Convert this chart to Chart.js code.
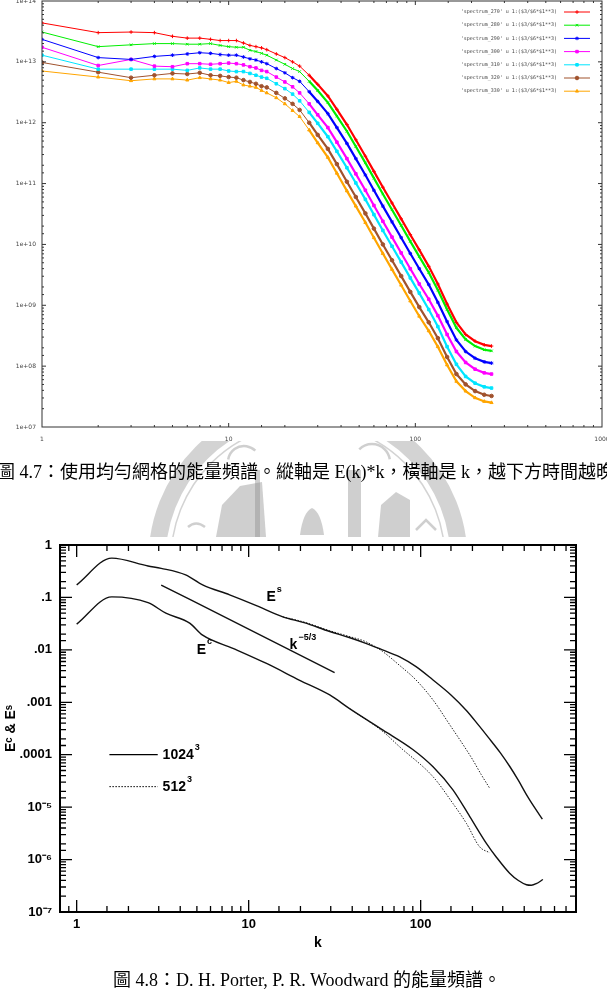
<!DOCTYPE html>
<html><head><meta charset="utf-8">
<script src="https://cdn.jsdelivr.net/npm/chart.js@4.4.1/dist/chart.umd.min.js"></script>
<style>
html,body{margin:0;padding:0;background:#fff;}
body{width:607px;height:990px;position:relative;overflow:hidden;}
#wm{position:absolute;left:0;top:0;}
#c1{position:absolute;left:0;top:0;}
#c2{position:absolute;left:0;top:530px;}
.cap{position:absolute;white-space:nowrap;font-family:"Liberation Serif","Noto Sans CJK TC",serif;font-size:18px;line-height:22px;color:#000;}
#cap1{left:-3px;top:461px;}
#cap2{left:0;width:614px;text-align:center;top:969px;}
</style></head><body>
<canvas id="wm" width="607" height="990"></canvas>
<canvas id="c1" width="607" height="455"></canvas>
<div class="cap" id="cap1">圖 4.7：使用均勻網格的能量頻譜。縱軸是 E(k)*k，橫軸是 k，越下方時間越晚</div>
<canvas id="c2" width="607" height="460"></canvas>
<div class="cap" id="cap2">圖 4.8：D. H. Porter, P. R. Woodward 的能量頻譜。</div>
<script>
// ===== Figure 4.7 (top), stored as log10(E(k)*k) =====
const kTop = [1,2,3,4,5,6,7,8,9,10,11,12,13,14,15,16,18,20,22,24,27,30,34,38,43,48,54,60,67,75,84,94,105,118,132,148,166,186,209,234,256];
const spec270 = [13.64,13.48,13.49,13.48,13.42,13.39,13.39,13.37,13.35,13.35,13.35,13.31,13.27,13.25,13.23,13.20,13.13,13.07,13.00,12.93,12.78,12.63,12.44,12.22,11.97,11.72,11.45,11.20,10.94,10.68,10.42,10.16,9.91,9.64,9.35,9.02,8.72,8.52,8.41,8.35,8.33];
const spec280 = [13.49,13.25,13.28,13.30,13.30,13.29,13.29,13.30,13.27,13.25,13.24,13.24,13.19,13.17,13.14,13.11,13.03,12.96,12.89,12.84,12.68,12.53,12.33,12.11,11.86,11.61,11.34,11.09,10.83,10.57,10.31,10.05,9.80,9.54,9.25,8.93,8.63,8.44,8.33,8.27,8.25];
const spec290 = [13.37,13.07,13.04,13.09,13.11,13.13,13.15,13.14,13.12,13.11,13.11,13.08,13.05,13.03,13.00,12.97,12.89,12.82,12.74,12.68,12.51,12.35,12.15,11.92,11.66,11.41,11.14,10.89,10.63,10.37,10.11,9.85,9.60,9.34,9.05,8.73,8.43,8.24,8.13,8.07,8.05];
const spec300 = [13.24,12.94,13.04,12.93,12.92,12.97,12.97,12.96,12.97,12.98,12.97,12.95,12.92,12.90,12.86,12.84,12.75,12.67,12.59,12.49,12.31,12.13,11.92,11.68,11.41,11.16,10.89,10.64,10.38,10.12,9.86,9.60,9.35,9.10,8.83,8.52,8.24,8.06,7.95,7.89,7.87];
const spec310 = [13.11,12.88,12.88,12.88,12.88,12.86,12.90,12.88,12.88,12.85,12.84,12.84,12.81,12.78,12.75,12.73,12.64,12.56,12.47,12.36,12.17,11.99,11.77,11.53,11.26,11.01,10.74,10.49,10.23,9.97,9.71,9.45,9.20,8.93,8.65,8.32,8.03,7.83,7.72,7.66,7.64];
const spec320 = [12.99,12.83,12.74,12.78,12.81,12.80,12.82,12.78,12.77,12.75,12.74,12.70,12.67,12.64,12.60,12.58,12.49,12.40,12.31,12.21,12.00,11.80,11.57,11.32,11.03,10.78,10.51,10.26,10.00,9.74,9.48,9.22,8.97,8.72,8.46,8.15,7.87,7.70,7.59,7.53,7.51];
const spec330 = [12.85,12.75,12.69,12.72,12.72,12.70,12.74,12.72,12.70,12.66,12.68,12.62,12.60,12.58,12.53,12.49,12.41,12.31,12.20,12.10,11.88,11.67,11.43,11.17,10.88,10.63,10.36,10.11,9.85,9.59,9.33,9.07,8.82,8.58,8.32,8.02,7.75,7.59,7.48,7.42,7.40];
const topLabels = ["'spectrum_270' u 1:($3/$6*$1**3)","'spectrum_280' u 1:($3/$6*$1**3)","'spectrum_290' u 1:($3/$6*$1**3)","'spectrum_300' u 1:($3/$6*$1**3)","'spectrum_310' u 1:($3/$6*$1**3)","'spectrum_320' u 1:($3/$6*$1**3)","'spectrum_330' u 1:($3/$6*$1**3)"];
const topXTickLabels = ['1','10','100','1000'];

// ===== Figure 4.8 (bottom) — values stored as log10(E) =====
const kEsSolid = [1,1.6,2.6,3.1,4.3,5.4,7.75,11,15.8,21,29.6,38,48,60,75,94,118,150,185,220,246,290,329,370,412,460,510];
const EsSolid  = [-0.76,-0.25,-0.40,-0.445,-0.57,-0.76,-0.95,-1.15,-1.37,-1.48,-1.65,-1.76,-1.875,-2.0,-2.13,-2.32,-2.575,-2.86,-3.16,-3.46,-3.66,-3.96,-4.22,-4.49,-4.76,-5.01,-5.23];
const kEsDot = [15.8,21,29.6,38,48,60,75,94,118,147,184,201,225,252];
const EsDot  = [-1.37,-1.47,-1.635,-1.74,-1.845,-2.03,-2.29,-2.575,-2.956,-3.42,-3.90,-4.10,-4.38,-4.64];
const kEcSolid = [1,1.6,2.6,3.3,4.54,5.4,8.1,12.7,19.8,29.6,38.6,60.4,90,118,154,193,241,275,329,370,412,440,470,514];
const EcSolid  = [-1.51,-0.99,-1.10,-1.30,-1.49,-1.72,-1.97,-2.26,-2.58,-2.86,-3.12,-3.53,-3.90,-4.23,-4.67,-5.18,-5.69,-5.95,-6.26,-6.40,-6.48,-6.49,-6.46,-6.38];
const kEcDot = [38.6,60.4,75.5,118,154,184.5,220,252];
const EcDot  = [-3.12,-3.56,-3.85,-4.42,-4.93,-5.31,-5.755,-5.87];
const kRef = [3.1,31.6];
const refLine = [-0.763,-2.436];
const botYTickLabels = {'0':'1','-1':'.1','-2':'.01','-3':'.001','-4':'.0001','-5':'10\u207B\u2075','-6':'10\u207B\u2076','-7':'10\u207B\u2077'};
const botXTickLabels = ['1','10','100'];

// ---------- helpers ----------
const pw = v => Math.pow(10, v);
const pts = (ks, logs) => ks.map((k, i) => ({x: k, y: pw(logs[i])}));
const isMajor = v => { const l = Math.log10(v); return Math.abs(l - Math.round(l)) < 1e-6; };

const inTicks = {
  id: 'inTicks',
  afterDatasetsDraw(chart, args, o) {
    const {ctx, chartArea: a} = chart;
    const xs = chart.scales.x, ys = chart.scales.y;
    ctx.save();
    ctx.strokeStyle = o.color; ctx.lineWidth = o.tickWidth;
    ctx.beginPath();
    for (const t of xs.ticks) {
      const p = xs.getPixelForValue(t.value);
      if (p <= a.left + 1 || p >= a.right - 1) continue;
      const len = isMajor(t.value) ? o.major : o.minor;
      ctx.moveTo(p, a.bottom); ctx.lineTo(p, a.bottom - len);
      ctx.moveTo(p, a.top); ctx.lineTo(p, a.top + len);
    }
    for (const t of ys.ticks) {
      const p = ys.getPixelForValue(t.value);
      if (p <= a.top + 1 || p >= a.bottom - 1) continue;
      const len = isMajor(t.value) ? o.major : o.minor;
      ctx.moveTo(a.left, p); ctx.lineTo(a.left + len, p);
      ctx.moveTo(a.right, p); ctx.lineTo(a.right - len, p);
    }
    ctx.stroke();
    ctx.lineWidth = o.boxWidth;
    ctx.strokeRect(a.left, a.top, a.right - a.left, a.bottom - a.top);
    ctx.restore();
  }
};

const gpLegend = {
  id: 'gpLegend',
  afterDraw(chart, args, o) {
    const {ctx, chartArea: a} = chart;
    ctx.save();
    ctx.font = o.font; ctx.textAlign = 'right'; ctx.textBaseline = 'middle';
    chart.data.datasets.forEach((ds, i) => {
      const y = a.top + o.top + i * o.step;
      ctx.fillStyle = o.textColor;
      ctx.fillText(ds.label, a.right - o.textRight, y);
      ctx.strokeStyle = ds.borderColor; ctx.fillStyle = ds.borderColor; ctx.lineWidth = 1;
      ctx.beginPath(); ctx.moveTo(a.right - o.lineFrom, y); ctx.lineTo(a.right - o.lineTo, y); ctx.stroke();
      Chart.helpers.drawPoint(ctx, {pointStyle: ds.pointStyle, radius: ds.pointRadius, borderWidth: 1, rotation: 0}, a.right - (o.lineFrom + o.lineTo) / 2, y);
    });
    ctx.restore();
  }
};

// ---------- watermark (decorative background seal, visible between the figures) ----------
(function(){
  const c = document.getElementById('wm').getContext('2d');
  c.save();
  c.beginPath(); c.rect(0, 441, 607, 96); c.clip();
  c.strokeStyle = 'rgba(150,150,150,0.42)';
  c.lineWidth = 17; c.beginPath(); c.arc(308, 560, 151, 0, Math.PI * 2); c.stroke();
  c.lineWidth = 1.5; c.beginPath(); c.arc(308, 560, 137, 0, Math.PI * 2); c.stroke();
  c.fillStyle = 'rgba(140,140,140,0.42)';
  c.beginPath(); c.moveTo(216,537); c.lineTo(222,505); c.lineTo(240,486); c.lineTo(262,482); c.lineTo(266,537); c.closePath(); c.fill();
  c.beginPath(); c.moveTo(378,537); c.lineTo(381,505); c.lineTo(396,492); c.lineTo(410,500); c.lineTo(410,537); c.closePath(); c.fill();
  c.fillRect(255, 470, 5, 67); c.fillRect(348, 470, 13, 67);
  c.beginPath(); c.moveTo(300,535); c.quadraticCurveTo(303,512,312,508); c.quadraticCurveTo(321,512,324,535); c.closePath(); c.fill();
  c.lineWidth = 2.5; c.strokeStyle = 'rgba(140,140,140,0.42)';
  c.beginPath(); c.moveTo(188,527); c.quadraticCurveTo(196,520,205,527); c.stroke();
  c.beginPath(); c.arc(244,462,16,Math.PI*1.05,Math.PI*1.75); c.stroke();
  c.beginPath(); c.arc(372,462,18,Math.PI*1.25,Math.PI*1.95); c.stroke();
  c.beginPath(); c.moveTo(416,530); c.lineTo(426,520); c.lineTo(436,530); c.stroke();
  c.restore();
})();

// ---------- top chart ----------
const topColors = ['#ff0000','#00ee00','#0000ff','#ff00ff','#00e5ff','#a0522d','#ffa500'];
const topStyles = ['cross','crossRot','star','rect','rect','circle','triangle'];
const topData = [spec270, spec280, spec290, spec300, spec310, spec320, spec330];

new Chart(document.getElementById('c1'), {
  type: 'line',
  data: {
    datasets: topData.map((d, i) => ({
      label: topLabels[i], data: pts(kTop, d),
      borderColor: topColors[i], backgroundColor: topColors[i],
      pointBackgroundColor: topColors[i], pointBorderColor: topColors[i],
      pointStyle: topStyles[i], pointRadius: 1.8, pointBorderWidth: 1,
      borderWidth: 1, tension: 0,
      segment: { borderWidth: c => (c.p0.parsed.x >= 27 ? 2.2 : 1) }
    }))
  },
  options: {
    responsive: false, animation: false, events: [],
    layout: { autoPadding: false, padding: { top: 1, right: 5, left: 0, bottom: 0 } },
    plugins: {
      legend: { display: false }, tooltip: { enabled: false },
      inTicks: { color: '#333', tickWidth: 1, major: 4, minor: 2, boxWidth: 1 },
      gpLegend: { font: '5px "DejaVu Sans Mono"', textColor: '#444', top: 11, step: 13.2, textRight: 45, lineFrom: 38, lineTo: 12 }
    },
    scales: {
      x: {
        type: 'logarithmic', min: 1, max: 1000,
        grid: { display: false, drawTicks: false }, border: { display: false },
        ticks: { autoSkip: false, maxRotation: 0, padding: 9, color: '#444', font: { family: 'DejaVu Sans', size: 6 },
          callback: v => isMajor(v) ? topXTickLabels[Math.round(Math.log10(v))] : '' },
        afterFit: s => { s.height = 28; s.paddingLeft = 0; s.paddingRight = 0; }
      },
      y: {
        type: 'logarithmic', min: 1e7, max: 1e14,
        grid: { display: false, drawTicks: false }, border: { display: false },
        ticks: { autoSkip: false, padding: 6, color: '#444', font: { family: 'DejaVu Sans', size: 6 },
          callback: v => isMajor(v) ? ('1e+' + String(Math.round(Math.log10(v))).padStart(2, '0')) : '' },
        afterFit: s => { s.width = 42; s.paddingTop = 0; s.paddingBottom = 0; }
      }
    }
  },
  plugins: [inTicks, gpLegend]
});

// ---------- bottom chart ----------
const botNotes = {
  id: 'botNotes',
  afterDraw(chart, args, o) {
    const {ctx} = chart; const xs = chart.scales.x, ys = chart.scales.y;
    const sup = (k, v, base, s, dy) => {
      const x = xs.getPixelForValue(k), y = ys.getPixelForValue(v);
      ctx.font = o.font; ctx.fillText(base, x, y);
      const w = ctx.measureText(base).width;
      ctx.font = o.supFont; ctx.fillText(s, x + w + 1, y - dy);
    };
    ctx.save();
    ctx.fillStyle = '#000'; ctx.textAlign = 'left'; ctx.textBaseline = 'middle';
    sup(12.7, 0.1, 'E', 's', 8);
    sup(17.3, 0.0124, 'k', '\u22125/3', 7);
    sup(4.99, 0.01, 'E', 'c', 8);
    ctx.strokeStyle = '#000'; ctx.lineWidth = 1.3;
    const lx0 = xs.getPixelForValue(1.55), lx1 = xs.getPixelForValue(2.96);
    const y1 = ys.getPixelForValue(1e-4), y2 = ys.getPixelForValue(2.46e-5);
    ctx.beginPath(); ctx.moveTo(lx0, y1); ctx.lineTo(lx1, y1); ctx.stroke();
    ctx.setLineDash([1.5, 1.5]); ctx.lineWidth = 1;
    ctx.beginPath(); ctx.moveTo(lx0, y2); ctx.lineTo(lx1, y2); ctx.stroke();
    ctx.setLineDash([]);
    sup(3.16, 1e-4, '1024', '3', 7);
    sup(3.16, 2.46e-5, '512', '3', 7);
    ctx.restore();
  }
};

const solid = (d) => ({ data: d, borderColor: '#111', borderWidth: 1.4, pointRadius: 0, cubicInterpolationMode: 'monotone' });
const dotted = (d) => ({ data: d, borderColor: '#222', borderWidth: 1, borderDash: [1.5, 1.5], pointRadius: 0, cubicInterpolationMode: 'monotone' });

new Chart(document.getElementById('c2'), {
  type: 'line',
  data: {
    datasets: [
      { label: 'E^s 1024^3', ...solid(pts(kEsSolid, EsSolid)) },
      { label: 'E^c 1024^3', ...solid(pts(kEcSolid, EcSolid)) },
      { label: 'k^-5/3', ...solid(pts(kRef, refLine)) },
      { label: 'E^s 512^3', ...dotted(pts(kEsDot, EsDot)) },
      { label: 'E^c 512^3', ...dotted(pts(kEcDot, EcDot)) }
    ]
  },
  options: {
    responsive: false, animation: false, events: [],
    layout: { autoPadding: false, padding: { top: 15, right: 31, left: 0, bottom: 0 } },
    plugins: {
      legend: { display: false }, tooltip: { enabled: false },
      inTicks: { color: '#000', tickWidth: 1.3, major: 12, minor: 6, boxWidth: 2 },
      botNotes: { font: 'bold 14px "Liberation Sans"', supFont: 'bold 9px "Liberation Sans"' }
    },
    scales: {
      x: {
        type: 'logarithmic', min: 0.8, max: 800,
        grid: { display: false, drawTicks: false }, border: { display: false },
        title: { display: true, text: 'k', color: '#000', font: { family: 'Liberation Sans', size: 14, weight: 'bold' }, padding: { top: 0, bottom: 38.6 } },
        ticks: { autoSkip: false, maxRotation: 0, padding: 5, color: '#000', font: { family: 'Liberation Sans', size: 13, weight: 'bold' },
          callback: v => isMajor(v) ? (botXTickLabels[Math.round(Math.log10(v))] || '') : '' },
        afterFit: s => { s.height = 78; s.paddingLeft = 0; s.paddingRight = 0; }
      },
      y: {
        type: 'logarithmic', min: 1e-7, max: 1,
        grid: { display: false, drawTicks: false }, border: { display: false },
        title: { display: true, text: 'E\u1D9C & E\u02E2', color: '#000', font: { family: 'Liberation Sans', size: 14, weight: 'bold' }, padding: { top: 3, bottom: 0 } },
        ticks: { autoSkip: false, padding: 8, color: '#000', font: { family: 'Liberation Sans', size: 13, weight: 'bold' },
          callback: v => isMajor(v) ? (botYTickLabels[String(Math.round(Math.log10(v)))] || '') : '' },
        afterFit: s => { s.width = 60; s.paddingTop = 0; s.paddingBottom = 0; }
      }
    }
  },
  plugins: [inTicks, botNotes]
});
</script>
</body></html>
